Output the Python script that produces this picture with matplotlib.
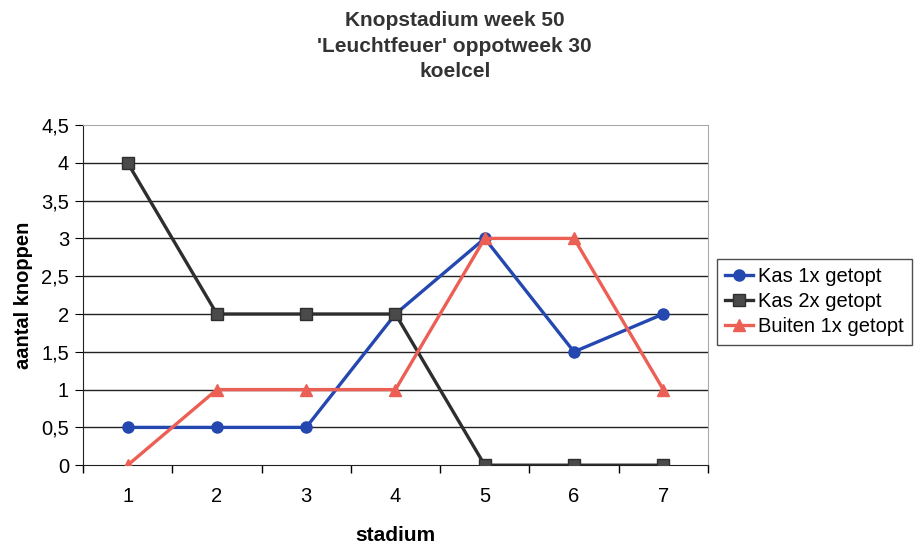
import matplotlib.pyplot as plt

plt.rcParams['font.family'] = ['Liberation Sans', 'DejaVu Sans']

stadium = [1, 2, 3, 4, 5, 6, 7]
kas_1x = [0.5, 0.5, 0.5, 2, 3, 1.5, 2]
kas_2x = [4, 2, 2, 2, 0, 0, 0]
buiten_1x = [0, 1, 1, 1, 3, 3, 1]
y_ticks = [0, 0.5, 1, 1.5, 2, 2.5, 3, 3.5, 4, 4.5]
y_labels = ['0', '0,5', '1', '1,5', '2', '2,5', '3', '3,5', '4', '4,5']


def main():
    fig = plt.figure(figsize=(9.15, 5.46), dpi=100)
    ax = fig.add_axes([0.0907, 0.148, 0.683, 0.623])

    ax.plot(stadium, kas_1x, color='#2448b0', lw=2.4, marker='o', ms=8,
            label='Kas 1x getopt', zorder=3)
    ax.plot(stadium, kas_2x, color='#2e2e2e', lw=2.4, marker='s', ms=8,
            markerfacecolor='#4a4a4a', label='Kas 2x getopt', zorder=3)
    ax.plot(stadium, buiten_1x, color='#ec5f55', lw=2.4, marker='^', ms=9,
            label='Buiten 1x getopt', zorder=3)

    ax.set_xlim(0.5, 7.5)
    ax.set_ylim(0, 4.5)
    ax.set_yticks(y_ticks)
    ax.set_yticklabels(y_labels)
    ax.set_xticks(stadium)
    ax.set_xticks([x + 0.5 for x in range(0, 8)], minor=True)
    ax.tick_params(axis='x', which='major', length=0, pad=16, labelsize=14.5)
    ax.tick_params(axis='x', which='minor', length=6, direction='out', width=1)
    ax.tick_params(axis='y', length=6, direction='out', labelsize=14.5, pad=4)

    for y in y_ticks[1:-1]:
        ax.axhline(y, color='#222222', lw=1, zorder=1)

    ax.spines['left'].set_color('#222222')
    ax.spines['bottom'].set_color('#222222')
    ax.spines['top'].set_color('#aaaaaa')
    ax.spines['top'].set_linestyle((0, (3, 1)))
    ax.spines['right'].set_color('#aaaaaa')
    ax.spines['right'].set_linestyle((0, (3, 1)))

    ax.set_xlabel('stadium', fontsize=15, fontweight='bold', labelpad=14)
    ax.set_ylabel('aantal knoppen', fontsize=14.5, fontweight='bold', labelpad=6)

    fig.text(0.497, 0.98, "Knopstadium week 50\n'Leuchtfeuer' oppotweek 30\nkoelcel",
             ha='center', va='top', fontsize=15, fontweight='bold',
             color='#333333', linespacing=1.45)

    leg = ax.legend(loc='center left', bbox_to_anchor=(1.014, 0.48),
                    fontsize=14.5, frameon=True, fancybox=False,
                    handlelength=1.4, handletextpad=0.25, borderpad=0.4,
                    labelspacing=0.3, borderaxespad=0)
    leg.get_frame().set_edgecolor('#222222')
    leg.get_frame().set_linewidth(1)

    fig.savefig('out.png', dpi=100)


if __name__ == '__main__':
    main()
